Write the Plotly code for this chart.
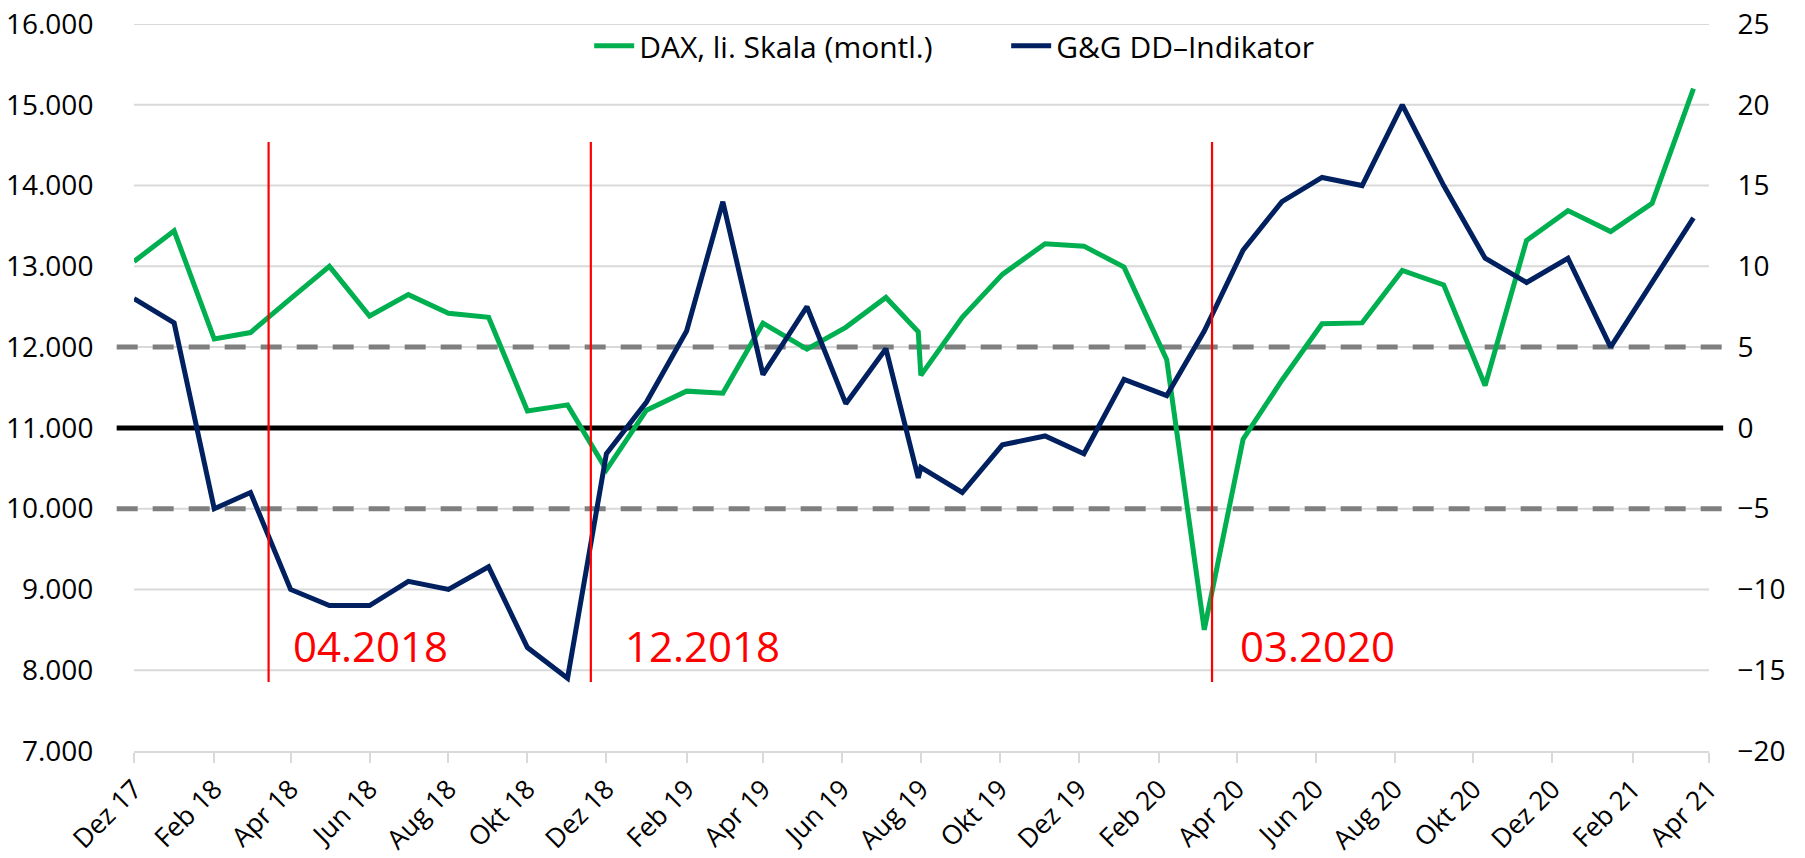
import plotly.graph_objects as go

# ---- data -------------------------------------------------------------
dates = [
    "2017-12-01", "2018-01-01", "2018-02-01", "2018-03-01", "2018-04-01",
    "2018-05-01", "2018-06-01", "2018-07-01", "2018-08-01", "2018-09-01",
    "2018-10-01", "2018-11-01", "2018-12-01", "2019-01-01", "2019-02-01",
    "2019-03-01", "2019-04-01", "2019-05-05", "2019-06-04", "2019-07-05",
    "2019-07-30", "2019-08-01", "2019-09-02", "2019-10-03", "2019-11-05",
    "2019-12-05", "2020-01-05", "2020-02-07", "2020-03-07", "2020-04-06",
    "2020-05-06", "2020-06-06", "2020-07-07", "2020-08-07", "2020-09-08",
    "2020-10-10", "2020-11-11", "2020-12-13", "2021-01-15", "2021-02-16",
    "2021-03-20",
]
dax = [
    13060, 13440, 12100, 12180, 12600,
    13000, 12385, 12650, 12420, 12370,
    11210, 11285, 10480, 11220, 11455,
    11430, 12295, 11975, 12245, 12615,
    12190, 11650, 12370, 12900, 13280,
    13250, 12990, 11845, 8500, 10860,
    11590, 12290, 12300, 12950, 12770,
    11525, 13320, 13690, 13430, 13780,
    15200,
]
dd_ind = [
    8.0, 6.5, -5.0, -4.0, -10.0,
    -11.0, -11.0, -9.5, -10.0, -8.6,
    -13.6, -15.5, -1.6, 1.6, 6.0,
    14.0, 3.3, 7.5, 1.5, 4.9,
    -3.1, -2.45, -4.0, -1.05, -0.5,
    -1.6, 3.0, 2.0, 6.0, 11.0,
    14.0, 15.5, 15.0, 20.0, 15.0,
    10.5, 9.0, 10.5, 5.0, 9.0,
    13.0,
]
series_names = ["DAX, li. Skala (montl.)", "G&G DD\u2013Indikator"]

tick_dates = [
    "2017-12-01", "2018-02-01", "2018-04-01", "2018-06-01", "2018-08-01",
    "2018-10-01", "2018-12-01", "2019-02-01", "2019-04-01", "2019-06-01",
    "2019-08-01", "2019-10-01", "2019-12-01", "2020-02-01", "2020-04-01",
    "2020-06-01", "2020-08-01", "2020-10-01", "2020-12-01", "2021-02-01",
    "2021-04-01",
]
tick_labels = [
    "Dez 17", "Feb 18", "Apr 18", "Jun 18", "Aug 18", "Okt 18", "Dez 18",
    "Feb 19", "Apr 19", "Jun 19", "Aug 19", "Okt 19", "Dez 19", "Feb 20",
    "Apr 20", "Jun 20", "Aug 20", "Okt 20", "Dez 20", "Feb 21", "Apr 21",
]

# signal markers (vertical red lines + labels)
signal_dates = ["2018-03-15", "2018-11-19", "2020-03-13"]
signal_label_dates = ["2018-04-01", "2018-12-14", "2020-04-02"]
signal_labels = ["04.2018", "12.2018", "03.2020"]
signal_range = [7855, 14540]   # left-axis span of the red lines
signal_label_level = 8310

# reference levels on the indicator scale
zero_level = 0
band_levels = [5, -5]

left_range = [7000, 16000]
right_range = [-20, 25]
left_ticks = list(range(7000, 16001, 1000))

GREEN = "#00B050"
NAVY = "#002060"
FONT = "Open Sans, Noto Sans, DejaVu Sans, sans-serif"


def to_left(v):
    """map an indicator (right-axis) value onto the left axis scale"""
    return left_range[0] + (v - right_range[0]) * (
        (left_range[1] - left_range[0]) / (right_range[1] - right_range[0]))


# ---- figure -----------------------------------------------------------
fig = go.Figure()
fig.add_trace(go.Scatter(x=dates, y=dax, name=series_names[0], mode="lines",
                         line=dict(color=GREEN, width=5), yaxis="y"))
fig.add_trace(go.Scatter(x=dates, y=dd_ind, name=series_names[1], mode="lines",
                         line=dict(color=NAVY, width=5), yaxis="y2"))

shapes = []
# horizontal grid
for g in left_ticks[1:]:
    shapes.append(dict(type="line", xref="paper", yref="y", x0=0, x1=1,
                       y0=g, y1=g, layer="between",
                       line=dict(color="#D9D9D9", width=2)))
for lv in band_levels:
    shapes.append(dict(type="line", xref="paper", yref="y", x0=-0.011, x1=1.009,
                       y0=to_left(lv), y1=to_left(lv), layer="between",
                       line=dict(color="#7F7F7F", width=5, dash="21px,15px")))
shapes.append(dict(type="line", xref="paper", yref="y", x0=-0.011, x1=1.009,
                   y0=to_left(zero_level), y1=to_left(zero_level),
                   layer="between", line=dict(color="#000000", width=5)))
for d in signal_dates:
    shapes.append(dict(type="line", xref="x", yref="y", x0=d, x1=d,
                       y0=signal_range[0], y1=signal_range[1], layer="above",
                       line=dict(color="#FF0000", width=2.2)))

annotations = []
for d, t in zip(signal_label_dates, signal_labels):
    annotations.append(dict(x=d, y=signal_label_level, xref="x", yref="y",
                            text=t, showarrow=False, xanchor="left",
                            yanchor="middle",
                            font=dict(family=FONT, size=42, color="#FF0000")))

fig.update_layout(
    width=1805, height=858,
    margin=dict(l=134, r=96, t=24, b=107, autoexpand=False),
    paper_bgcolor="white", plot_bgcolor="white",
    separators=",.",
    font=dict(family=FONT, size=28, color="#000000"),
    showlegend=True,
    legend=dict(orientation="h", x=0.289, xanchor="left", y=0.97,
                yanchor="middle", bgcolor="rgba(0,0,0,0)",
                font=dict(family=FONT, size=30, color="#000000"),
                entrywidth=362, entrywidthmode="pixels", itemwidth=40),
    shapes=shapes,
    annotations=annotations,
    hovermode=False,
    xaxis=dict(type="date", range=["2017-12-01", "2021-04-01"],
               tickmode="array", tickvals=tick_dates, ticktext=tick_labels,
               tickangle=-45, ticks="outside", ticklen=10, tickwidth=2,
               tickcolor="#D9D9D9", showgrid=False, showline=True,
               linecolor="#D9D9D9", linewidth=2, zeroline=False,
               automargin=False,
               tickfont=dict(family=FONT, size=26.5, color="#000000")),
    yaxis=dict(range=left_range, tickmode="array", tickvals=left_ticks,
               tickformat=",d", showgrid=False, automargin=False,
               zeroline=False, showline=False, ticks="outside", ticklen=34,
               tickcolor="rgba(0,0,0,0)",
               tickfont=dict(family=FONT, size=28, color="#000000")),
    yaxis2=dict(range=right_range, dtick=5, tick0=-20, overlaying="y",
                side="right", showgrid=False, zeroline=False, showline=False,
                automargin=False,
                ticks="outside", ticklen=22, tickcolor="rgba(0,0,0,0)",
                tickfont=dict(family=FONT, size=28, color="#000000")),
)

fig.write_html(
    "out.html",
    config={"displayModeBar": False},
    post_script="document.body.style.margin='0';document.body.style.overflow='hidden';",
)
